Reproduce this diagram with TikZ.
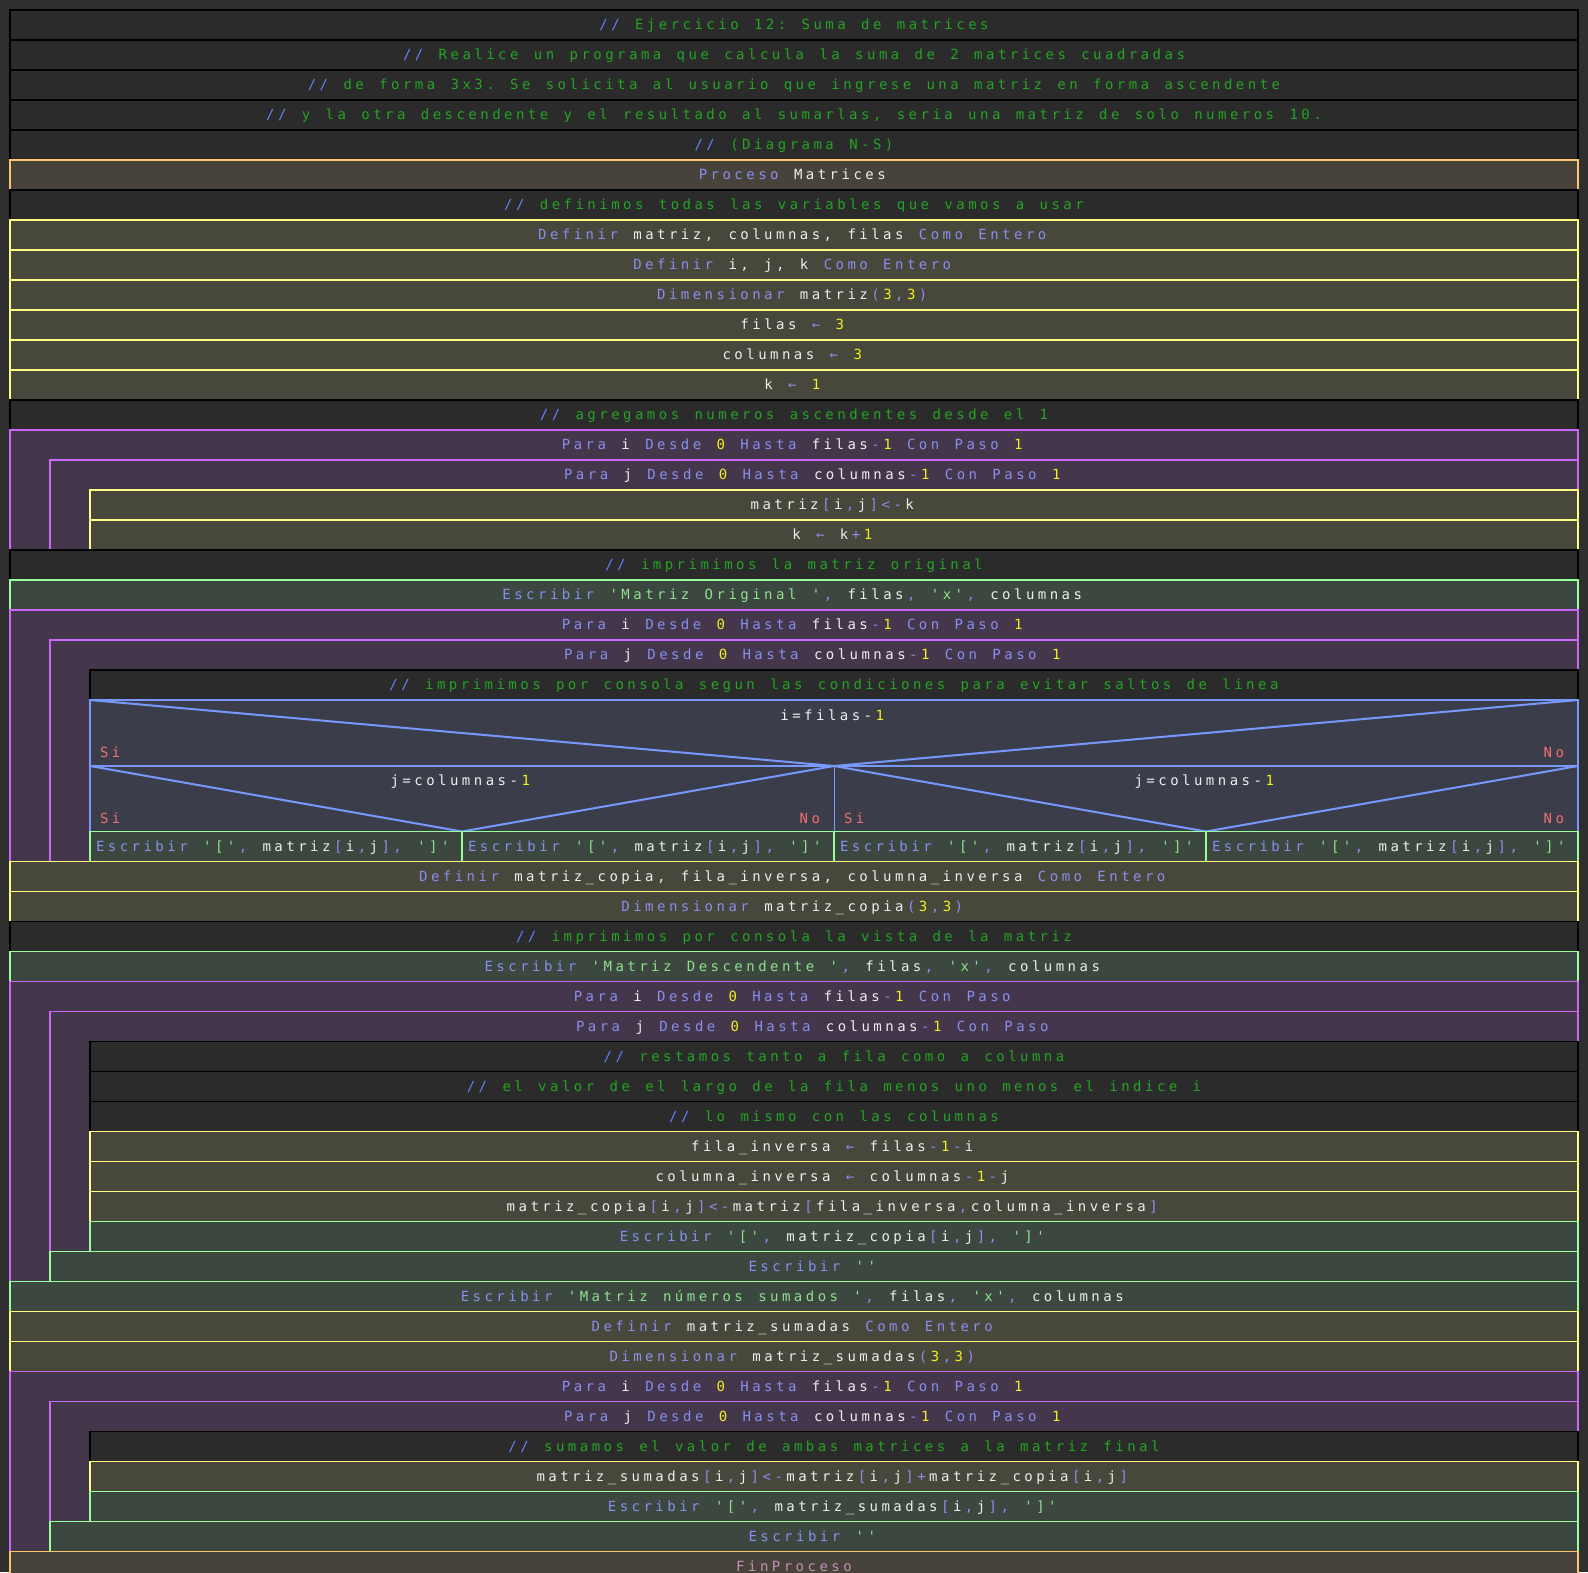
\documentclass[tikz,border=0pt]{standalone}
\usepackage{fontspec}
\newfontfamily\codefont[LetterSpace=24.8,Ligatures=TeXOff]{DejaVu Sans Mono}
\usetikzlibrary{calc}

% panel colours
\definecolor{pagebg}{HTML}{2F2F2F}
\definecolor{cmtfill}{HTML}{2B2B2B}
\definecolor{procfill}{HTML}{48433A}
\definecolor{procline}{HTML}{FFC66D}
\definecolor{deffill}{HTML}{48473B}
\definecolor{defline}{HTML}{FFFF80}
\definecolor{loopfill}{HTML}{44374B}
\definecolor{loopline}{HTML}{CC66FF}
\definecolor{wrfill}{HTML}{3C483F}
\definecolor{wrline}{HTML}{99FF99}
\definecolor{decfill}{HTML}{3B3E4A}
\definecolor{decline}{HTML}{7799FF}
% syntax colours
\definecolor{txtslash}{HTML}{6680FF}
\definecolor{txtcmt}{HTML}{24A524}
\definecolor{txtkw}{HTML}{8A8EEE}
\definecolor{txtid}{HTML}{EEEEEE}
\definecolor{txtnum}{HTML}{F0F020}
\definecolor{txtop}{HTML}{8A8EEE}
\definecolor{txtstr}{HTML}{90E090}
\definecolor{txtsn}{HTML}{F07070}
\definecolor{txtend}{HTML}{C090B0}

% Letter spacing is only applied inside one run of glyphs, so a coloured
% segment that runs straight into the next one gets the missing gap back.
\makeatletter
\newcommand\lsgap{\kern3.47pt}
\newcommand\lscheck{\ifx\lsnext\@sptoken\else\lsgap\fi}
\newcommand\seg[2]{\textcolor{#1}{#2}\futurelet\lsnext\lscheck}
\makeatother
\newcommand\kwd[1]{\seg{txtkw}{#1}}
\newcommand\idn[1]{\seg{txtid}{#1}}
\newcommand\nmb[1]{\seg{txtnum}{#1}}
\newcommand\opr[1]{\seg{txtop}{#1}}
\newcommand\strg[1]{\seg{txtstr}{#1}}
\newcommand\cmt[1]{\textcolor{txtslash}{//} \textcolor{txtcmt}{#1}}
\newcommand\codesize{\codefont\fontsize{14}{16}\selectfont\frenchspacing
  \fontdimen2\font=15.37pt\fontdimen3\font=0pt\fontdimen4\font=0pt
  \fontdimen7\font=0pt}

% one full-width row of the chart: name, style, left x, top y, text
\newcommand\nsrow[5]{%
  \path[#2] (#3,#4) rectangle (1578,#4+30);
  \node[code] (#1) at ({(#3+1578)/2},#4+19.5) {#5};}
% a loop block: name, left x, top y, bottom y, header text
\newcommand\nsloop[5]{%
  \path[loopbox] (#2,#3) rectangle (1578,#4);
  \node[code] (#1) at ({(#2+1578)/2},#3+19.5) {#5};}
% one cell under the decision: name, left x, text
\newcommand\nscell[3]{%
  \path[wrbox] (#2,831.5) rectangle (#2+372,861.5);
  \node[code,anchor=base west] (#1) at (#2+6,851) {#3};}

\newcommand\parai[1]{\kwd{Para} \idn{i} \kwd{Desde} \nmb{0} \kwd{Hasta} \idn{filas}\opr{-}\nmb{1} \kwd{Con Paso}#1}
\newcommand\paraj[1]{\kwd{Para} \idn{j} \kwd{Desde} \nmb{0} \kwd{Hasta} \idn{columnas}\opr{-}\nmb{1} \kwd{Con Paso}#1}
\newcommand\wrij{\kwd{Escribir} \strg{'['}\opr{,} \idn{matriz}\opr{[}\idn{i}\opr{,}\idn{j}\opr{]}\opr{,} \strg{']'}}

\begin{document}
\begin{tikzpicture}[x=1pt,y=-1pt,
  every node/.style={inner sep=0pt,outer sep=0pt},
  code/.style={font=\codesize,anchor=base,text=txtid},
  cmtbox/.style={fill=cmtfill,draw=black,line width=1.6pt},
  procbox/.style={fill=procfill,draw=procline,line width=1.6pt},
  defbox/.style={fill=deffill,draw=defline,line width=1.6pt},
  loopbox/.style={fill=loopfill,draw=loopline,line width=1.6pt},
  wrbox/.style={fill=wrfill,draw=wrline,line width=1.6pt},
  decbox/.style={fill=decfill,draw=decline,line width=1.6pt},
  decedge/.style={draw=decline,line width=2pt},
  answer/.style={code,text=txtsn}]
\useasboundingbox (0,0) rectangle (1588,1572);
\clip (0,0) rectangle (1588,1572);
\fill[pagebg] (0,0) rectangle (1588,1572);

% header comments and declarations
\nsrow{c0}{cmtbox}{10}{10}{\cmt{Ejercicio 12: Suma de matrices}}
\nsrow{c1}{cmtbox}{10}{40}{\cmt{Realice un programa que calcula la suma de 2 matrices cuadradas}}
\nsrow{c2}{cmtbox}{10}{70}{\cmt{de forma 3x3. Se solicita al usuario que ingrese una matriz en forma ascendente}}
\nsrow{c3}{cmtbox}{10}{100}{\cmt{y la otra descendente y el resultado al sumarlas, seria una matriz de solo numeros 10.}}
\nsrow{c4}{cmtbox}{10}{130}{\cmt{(Diagrama N-S)}}
\nsrow{proc}{procbox}{10}{160}{\kwd{Proceso} \idn{Matrices}}
\nsrow{c5}{cmtbox}{10}{190}{\cmt{definimos todas las variables que vamos a usar}}
\nsrow{d0}{defbox}{10}{220}{\kwd{Definir} \idn{matriz, columnas, filas} \kwd{Como Entero}}
\nsrow{d1}{defbox}{10}{250}{\kwd{Definir} \idn{i, j, k} \kwd{Como Entero}}
\nsrow{d2}{defbox}{10}{280}{\kwd{Dimensionar} \idn{matriz}\opr{(}\nmb{3}\opr{,}\nmb{3}\opr{)}}
\nsrow{a0}{defbox}{10}{310}{\idn{filas} \opr{←} \nmb{3}}
\nsrow{a1}{defbox}{10}{340}{\idn{columnas} \opr{←} \nmb{3}}
\nsrow{a2}{defbox}{10}{370}{\idn{k} \opr{←} \nmb{1}}
\nsrow{c6}{cmtbox}{10}{400}{\cmt{agregamos numeros ascendentes desde el 1}}

% fill the matrix with 1..9
\nsloop{la0}{10}{430}{550}{\parai{ \nmb{1}}}
\nsloop{la1}{50}{460}{550}{\paraj{ \nmb{1}}}
\nsrow{a3}{defbox}{90}{490}{\idn{matriz}\opr{[}\idn{i}\opr{,}\idn{j}\opr{]<-}\idn{k}}
\nsrow{a4}{defbox}{90}{520}{\idn{k} \opr{←} \idn{k}\opr{+}\nmb{1}}

% print the original matrix
\nsrow{c7}{cmtbox}{10}{550}{\cmt{imprimimos la matriz original}}
\nsrow{w0}{wrbox}{10}{580}{\kwd{Escribir} \strg{'Matriz Original '}\opr{,} \idn{filas}\opr{,} \strg{'x'}\opr{,} \idn{columnas}}
\nsloop{lb0}{10}{610}{861.5}{\parai{ \nmb{1}}}
\nsloop{lb1}{50}{640}{861.5}{\paraj{ \nmb{1}}}
\nsrow{c8}{cmtbox}{90}{670}{\cmt{imprimimos por consola segun las condiciones para evitar saltos de linea}}

% nested decision
\coordinate (dtl) at (90,700);
\coordinate (dtr) at (1578,700);
\coordinate (dml) at (90,766);
\coordinate (dmc) at (834,766);
\coordinate (dmr) at (1578,766);
\coordinate (dbl) at (462,831.5);
\coordinate (dbc) at (834,831.5);
\coordinate (dbr) at (1206,831.5);
\path[decbox] (dtl) rectangle (1578,831.5);
\draw[decedge] (dml) -- (dmr);
\draw[decedge] (dtl) -- (dmc) -- (dtr);
\draw[decedge] (dml) -- (dbl) -- (dmc) -- (dbr) -- (dmr);
\draw[draw=decline,line width=1pt] (dmc) -- (dbc);
\node[code] (q0) at (834,720) {\idn{i=filas-}\nmb{1}};
\node[answer,anchor=base west] (q0si) at (100,757) {Si};
\node[answer,anchor=base east] (q0no) at (1564,757) {No};
\node[code] (q1) at (462,785.5) {\idn{j=columnas-}\nmb{1}};
\node[answer,anchor=base west] (q1si) at (100,823) {Si};
\node[answer,anchor=base east] (q1no) at (820,823) {No};
\node[code] (q2) at (1206,785.5) {\idn{j=columnas-}\nmb{1}};
\node[answer,anchor=base west] (q2si) at (844,823) {Si};
\node[answer,anchor=base east] (q2no) at (1564,823) {No};
\nscell{e0}{90}{\wrij}
\nscell{e1}{462}{\wrij}
\nscell{e2}{834}{\wrij}
\nscell{e3}{1206}{\wrij}

% reversed copy
\nsrow{d3}{defbox}{10}{861.5}{\kwd{Definir} \idn{matriz\_copia, fila\_inversa, columna\_inversa} \kwd{Como Entero}}
\nsrow{d4}{defbox}{10}{891.5}{\kwd{Dimensionar} \idn{matriz\_copia}\opr{(}\nmb{3}\opr{,}\nmb{3}\opr{)}}
\nsrow{c9}{cmtbox}{10}{921.5}{\cmt{imprimimos por consola la vista de la matriz}}
\nsrow{w1}{wrbox}{10}{951.5}{\kwd{Escribir} \strg{'Matriz Descendente '}\opr{,} \idn{filas}\opr{,} \strg{'x'}\opr{,} \idn{columnas}}
\nsloop{lc0}{10}{981.5}{1281.5}{\parai{}}
\nsloop{lc1}{50}{1011.5}{1251.5}{\paraj{}}
\nsrow{c10}{cmtbox}{90}{1041.5}{\cmt{restamos tanto a fila como a columna}}
\nsrow{c11}{cmtbox}{90}{1071.5}{\cmt{el valor de el largo de la fila menos uno menos el indice i}}
\nsrow{c12}{cmtbox}{90}{1101.5}{\cmt{lo mismo con las columnas}}
\nsrow{a5}{defbox}{90}{1131.5}{\idn{fila\_inversa} \opr{←} \idn{filas}\opr{-}\nmb{1}\opr{-}\idn{i}}
\nsrow{a6}{defbox}{90}{1161.5}{\idn{columna\_inversa} \opr{←} \idn{columnas}\opr{-}\nmb{1}\opr{-}\idn{j}}
\nsrow{a7}{defbox}{90}{1191.5}{\idn{matriz\_copia}\opr{[}\idn{i}\opr{,}\idn{j}\opr{]<-}\idn{matriz}\opr{[}\idn{fila\_inversa}\opr{,}\idn{columna\_inversa}\opr{]}}
\nsrow{w2}{wrbox}{90}{1221.5}{\kwd{Escribir} \strg{'['}\opr{,} \idn{matriz\_copia}\opr{[}\idn{i}\opr{,}\idn{j}\opr{]}\opr{,} \strg{']'}}
\nsrow{w3}{wrbox}{50}{1251.5}{\kwd{Escribir} \strg{''}}

% sum of both matrices
\nsrow{w4}{wrbox}{10}{1281.5}{\kwd{Escribir} \strg{'Matriz números sumados '}\opr{,} \idn{filas}\opr{,} \strg{'x'}\opr{,} \idn{columnas}}
\nsrow{d5}{defbox}{10}{1311.5}{\kwd{Definir} \idn{matriz\_sumadas} \kwd{Como Entero}}
\nsrow{d6}{defbox}{10}{1341.5}{\kwd{Dimensionar} \idn{matriz\_sumadas}\opr{(}\nmb{3}\opr{,}\nmb{3}\opr{)}}
\nsloop{ld0}{10}{1371.5}{1551.5}{\parai{ \nmb{1}}}
\nsloop{ld1}{50}{1401.5}{1551.5}{\paraj{ \nmb{1}}}
\nsrow{c13}{cmtbox}{90}{1431.5}{\cmt{sumamos el valor de ambas matrices a la matriz final}}
\nsrow{a8}{defbox}{90}{1461.5}{\idn{matriz\_sumadas}\opr{[}\idn{i}\opr{,}\idn{j}\opr{]<-}\idn{matriz}\opr{[}\idn{i}\opr{,}\idn{j}\opr{]+}\idn{matriz\_copia}\opr{[}\idn{i}\opr{,}\idn{j}\opr{]}}
\nsrow{w5}{wrbox}{90}{1491.5}{\kwd{Escribir} \strg{'['}\opr{,} \idn{matriz\_sumadas}\opr{[}\idn{i}\opr{,}\idn{j}\opr{]}\opr{,} \strg{']'}}
\nsrow{w6}{wrbox}{50}{1521.5}{\kwd{Escribir} \strg{''}}
\nsrow{fin}{procbox}{10}{1551.5}{\textcolor{txtend}{FinProceso}}
\end{tikzpicture}
\end{document}
